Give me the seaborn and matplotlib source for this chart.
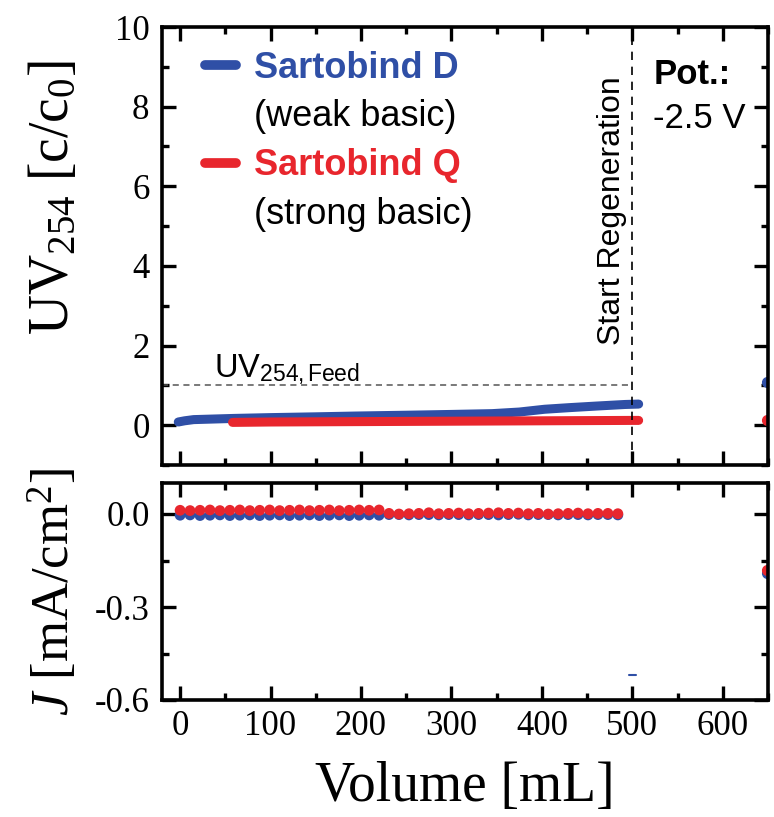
import matplotlib
matplotlib.use("Agg")
import matplotlib.pyplot as plt
from matplotlib.lines import Line2D
from matplotlib.ticker import MultipleLocator, FormatStrFormatter
import pandas as pd
import seaborn as sns

# UV254 traces (c/c0) against volume (mL)
d_vol = [-2, 5, 15, 30, 60, 100, 150, 195, 250, 300, 345, 375, 403, 430, 460, 492, 507]
d_uv = [0.08, 0.11, 0.14, 0.15, 0.17, 0.19, 0.21, 0.23, 0.25, 0.27, 0.29, 0.33, 0.40, 0.44, 0.48, 0.52, 0.53]
q_vol = [58, 100, 200, 300, 400, 500, 507]
q_uv = [0.07, 0.08, 0.09, 0.10, 0.11, 0.12, 0.12]

# single points after regeneration (right edge)
end_vol = 649
end_uv_d, end_uv_q = 1.08, 0.12
end_j_d, end_j_q = -0.19, -0.18

# current density J (mA/cm2)
j_vol = [0, 11, 22, 33, 44, 55, 66, 77, 88, 99, 110, 121, 132, 143, 154, 165, 176, 187, 198,
         209, 220, 231, 242, 253, 264, 275, 286, 297, 308, 319, 330, 341, 352, 363, 374, 385,
         396, 407, 418, 429, 440, 451, 462, 473, 484]
j_d = [-0.004, -0.003, -0.005, -0.004, -0.003, -0.005, -0.004, -0.003, -0.005, -0.004, -0.003,
       -0.005, -0.004, -0.003, -0.005, -0.004, -0.003, -0.005, -0.004, -0.003, -0.004, -0.002,
       -0.002, -0.003, -0.002, -0.002, -0.003, -0.002, -0.002, -0.003, -0.002, -0.002, -0.003,
       -0.002, -0.001, -0.003, -0.002, -0.002, -0.003, -0.002, -0.002, -0.003, -0.002, -0.002, -0.003]
j_q = [0.012, 0.011, 0.012, 0.013, 0.011, 0.012, 0.013, 0.011, 0.012, 0.013, 0.011, 0.012,
       0.013, 0.011, 0.012, 0.013, 0.011, 0.012, 0.013, 0.012, 0.013, 0.002, 0.000, 0.001,
       0.002, 0.004, 0.001, 0.002, 0.003, 0.001, 0.002, 0.003, 0.004, 0.002, 0.003, 0.001,
       0.002, 0.000, 0.001, 0.002, 0.003, 0.001, 0.002, 0.002, 0.001]
j_odd_vol, j_odd_val = 500, -0.52

feed_level = 1.0
regen_vol = 500

blue = "#2f4fa6"
red = "#e8262d"

sns.set_style("ticks")
plt.rcParams["font.family"] = ["Liberation Serif", "DejaVu Serif"]
plt.rcParams["mathtext.fontset"] = "custom"
plt.rcParams["mathtext.rm"] = "Liberation Serif"
plt.rcParams["mathtext.it"] = "Liberation Serif:italic"
plt.rcParams["mathtext.sf"] = "Liberation Sans"
for k in ["text.color", "axes.labelcolor", "xtick.color", "ytick.color", "axes.edgecolor"]:
    plt.rcParams[k] = "black"
sans = ["Liberation Sans", "DejaVu Sans"]

fig = plt.figure(figsize=(7.74, 8.17), dpi=100)
W, H = 774, 817
ax1 = fig.add_axes([162 / W, 1 - 465 / H, (768 - 162) / W, (465 - 27) / H])
ax2 = fig.add_axes([162 / W, 1 - 700 / H, (768 - 162) / W, (700 - 483) / H], sharex=ax1)

# top panel
top_df = pd.DataFrame({"vol": d_vol + q_vol,
                       "uv": d_uv + q_uv,
                       "mem": ["D"] * len(d_vol) + ["Q"] * len(q_vol)})
sns.lineplot(data=top_df, x="vol", y="uv", hue="mem", palette={"D": blue, "Q": red},
             lw=6.5, solid_capstyle="round", legend=False, ax=ax1, sort=False,
             estimator=None)
ax1.plot([end_vol], [end_uv_d], ls="none", marker="o", ms=7, color=blue)
ax1.plot([end_vol], [end_uv_q], ls="none", marker="o", ms=7, color=red)
ax1.plot([-20, regen_vol], [feed_level, feed_level], ls=(0, (4, 3)), lw=1.1, color="#555555")
ax1.axvline(regen_vol, ls=(0, (5, 4)), lw=1.2, color="black")
ax1.text(38, 1.2, r"$\mathsf{UV}_{\mathsf{254,Feed}}$", fontsize=23.5)
ax1.text(478, 5.4, "Start Regeneration", rotation=90, ha="center", va="center",
         fontsize=23, family=sans)
ax1.text(523, 8.8, "Pot.:", fontsize=25, fontweight="bold", family=sans, va="center")
ax1.text(523, 7.7, "-2.5 V", fontsize=25, family=sans, va="center")

handles = [Line2D([], [], color=blue, lw=7, solid_capstyle="round"),
           Line2D([], [], color="none"),
           Line2D([], [], color=red, lw=7, solid_capstyle="round"),
           Line2D([], [], color="none")]
labels = ["Sartobind D", "(weak basic)", "Sartobind Q", "(strong basic)"]
leg = ax1.legend(handles, labels, loc="upper left", bbox_to_anchor=(0.018, 1.02),
                 frameon=False, handlelength=0.85, handletextpad=0.5, labelspacing=0.38,
                 prop={"family": sans, "size": 26})
for t, c, w in zip(leg.get_texts(), [blue, "black", red, "black"],
                   ["bold", "normal", "bold", "normal"]):
    t.set_color(c)
    t.set_fontweight(w)

ax1.set_ylim(-1, 10)
ax1.yaxis.set_major_locator(MultipleLocator(2))
ax1.yaxis.set_minor_locator(MultipleLocator(1))
ax1.set_ylabel(r"UV$_{254}$ [c/c$_0$]", fontsize=40)
ax1.yaxis.set_label_coords(-0.135, 0.61)
ax1.tick_params(labelbottom=False)
ax1.set_xlabel("")

# bottom panel
bot_df = pd.DataFrame({"vol": j_vol + j_vol, "j": j_d + j_q,
                       "mem": ["D"] * len(j_vol) + ["Q"] * len(j_vol)})
sns.scatterplot(data=bot_df, x="vol", y="j", hue="mem", palette={"D": blue, "Q": red},
                s=60, linewidth=0, legend=False, ax=ax2)
ax2.plot([j_odd_vol - 4, j_odd_vol + 4], [j_odd_val, j_odd_val], color=blue, lw=1.5)
ax2.plot([end_vol], [end_j_d], ls="none", marker="o", ms=7, color=blue)
ax2.plot([end_vol], [end_j_q], ls="none", marker="o", ms=7, color=red)

ax2.set_xlim(-20, 650)
ax2.set_ylim(-0.6, 0.1)
ax2.xaxis.set_major_locator(MultipleLocator(100))
ax2.xaxis.set_minor_locator(MultipleLocator(50))
ax2.yaxis.set_major_locator(MultipleLocator(0.3))
ax2.yaxis.set_minor_locator(MultipleLocator(0.15))
ax2.yaxis.set_major_formatter(FormatStrFormatter("%.1f"))
ax2.set_xlabel("Volume [mL]", fontsize=40)
ax2.xaxis.set_label_coords(0.5, -0.28)
ax2.set_ylabel(r"$J$ [mA/cm$^2$]", fontsize=38)
ax2.yaxis.set_label_coords(-0.135, 0.5)

for ax in (ax1, ax2):
    for s in ax.spines.values():
        s.set_linewidth(2.6)
    ax.tick_params(which="both", direction="in", top=True, right=True, width=2.4,
                   labelsize=25)
    ax.tick_params(which="major", length=10)
    ax.tick_params(which="minor", length=5)
    ax.tick_params(axis="y", pad=9)
    ax.tick_params(axis="x", pad=7)

fig.savefig("out.png", dpi=100)
